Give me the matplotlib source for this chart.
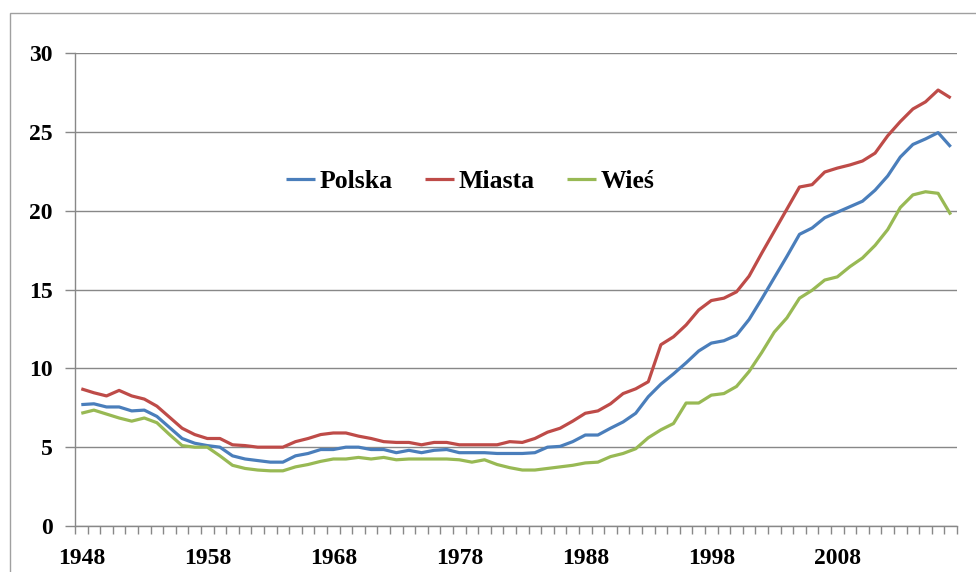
import matplotlib

matplotlib.use("Agg")
import matplotlib.pyplot as plt
from matplotlib.patches import Rectangle
import numpy as np

YEARS = list(range(1948, 2018))
TICK_YEARS = [1948, 1958, 1968, 1978, 1988, 1998, 2008]

POLSKA = [
    7.7, 7.75, 7.55, 7.55, 7.3, 7.35, 6.95, 6.25, 5.55, 5.25,
    5.1, 5.0, 4.45, 4.25, 4.15, 4.05, 4.05, 4.45, 4.6, 4.85,
    4.85, 5.0, 5.0, 4.85, 4.85, 4.65, 4.8, 4.65, 4.8, 4.85,
    4.65, 4.65, 4.65, 4.6, 4.6, 4.6, 4.65, 5.0, 5.05, 5.35,
    5.77, 5.77, 6.2, 6.6, 7.15, 8.2, 9.0, 9.65, 10.35, 11.1,
    11.6, 11.75, 12.1, 13.1, 14.4, 15.75, 17.1, 18.5, 18.9, 19.55,
    19.9, 20.25, 20.6, 21.3, 22.2, 23.4, 24.2, 24.55, 24.95, 24.05,
]
MIASTA = [
    8.7, 8.45, 8.25, 8.6, 8.25, 8.05, 7.6, 6.9, 6.2, 5.8,
    5.55, 5.55, 5.15, 5.1, 5.0, 5.0, 5.0, 5.35, 5.55, 5.8,
    5.9, 5.9, 5.7, 5.55, 5.35, 5.3, 5.3, 5.15, 5.3, 5.3,
    5.15, 5.15, 5.15, 5.15, 5.35, 5.3, 5.55, 5.95, 6.2, 6.65,
    7.15, 7.3, 7.75, 8.4, 8.7, 9.15, 11.5, 12.0, 12.75, 13.7,
    14.3, 14.45, 14.85, 15.85, 17.3, 18.7, 20.1, 21.5, 21.65, 22.45,
    22.7, 22.9, 23.15, 23.65, 24.75, 25.65, 26.45, 26.9, 27.65, 27.15,
]
WIES = [
    7.15, 7.35, 7.1, 6.85, 6.65, 6.85, 6.55, 5.8, 5.1, 5.0,
    5.0, 4.45, 3.85, 3.65, 3.55, 3.5, 3.5, 3.75, 3.9, 4.1,
    4.25, 4.25, 4.35, 4.25, 4.35, 4.2, 4.25, 4.25, 4.25, 4.25,
    4.2, 4.05, 4.2, 3.9, 3.7, 3.55, 3.55, 3.65, 3.75, 3.85,
    4.0, 4.05, 4.4, 4.6, 4.9, 5.6, 6.1, 6.5, 7.8, 7.8,
    8.3, 8.4, 8.85, 9.8, 11.0, 12.3, 13.2, 14.45, 14.95, 15.6,
    15.8, 16.45, 17.0, 17.8, 18.8, 20.2, 21.0, 21.2, 21.1, 19.75,
]

SERIES = [
    ("Polska", POLSKA, "#4A7EBB"),
    ("Miasta", MIASTA, "#BE4B48"),
    ("Wieś", WIES, "#98B954"),
]

GRID_COLOR = "#888888"
FONT = "Liberation Serif"


def main() -> None:
    plt.rcParams["font.family"] = [FONT, "DejaVu Serif"]
    plt.rcParams["font.weight"] = "bold"

    fig = plt.figure(figsize=(9.76, 5.72), dpi=100)
    # outer chart frame (runs off the right and bottom edges)
    fig.patches.append(
        Rectangle((10 / 976, -0.1), 1.2, (572 - 13) / 572 + 0.1,
                  transform=fig.transFigure, fill=False,
                  edgecolor="#A0A0A0", linewidth=1.0)
    )
    ax = fig.add_axes([75 / 976, 46 / 572, 882 / 976, 473 / 572])

    x = np.arange(len(YEARS))
    for name, values, color in SERIES:
        ax.plot(x, values, color=color, linewidth=2.3, label=name,
                solid_joinstyle="round", solid_capstyle="butt")

    ax.set_xlim(-0.5, len(YEARS) - 0.5)
    ax.set_ylim(0, 30)
    ax.set_yticks(range(0, 31, 5))
    ax.yaxis.grid(True, color=GRID_COLOR, linewidth=1.0)
    ax.set_axisbelow(True)

    ax.set_xticks([YEARS.index(y) for y in TICK_YEARS])
    ax.set_xticklabels([str(y) for y in TICK_YEARS])
    ax.set_xticks(np.arange(len(YEARS) + 1) - 0.5, minor=True)
    ax.tick_params(axis="x", which="major", length=0, pad=16, labelsize=17)
    ax.tick_params(axis="x", which="minor", length=6, width=1.0,
                   color=GRID_COLOR, direction="out")
    ax.tick_params(axis="y", length=7, width=1.0, color=GRID_COLOR,
                   pad=9, labelsize=17)

    for side in ("top", "right"):
        ax.spines[side].set_visible(False)
    for side in ("left", "bottom"):
        ax.spines[side].set_color(GRID_COLOR)
        ax.spines[side].set_linewidth(1.0)

    ax.legend(loc="center", bbox_to_anchor=(0.448, 0.729), ncol=3,
              frameon=False, fontsize=18.5, handlelength=1.13,
              handletextpad=0.18, columnspacing=1.25)

    fig.savefig("out.png", dpi=100)
    plt.close(fig)


if __name__ == "__main__":
    main()
